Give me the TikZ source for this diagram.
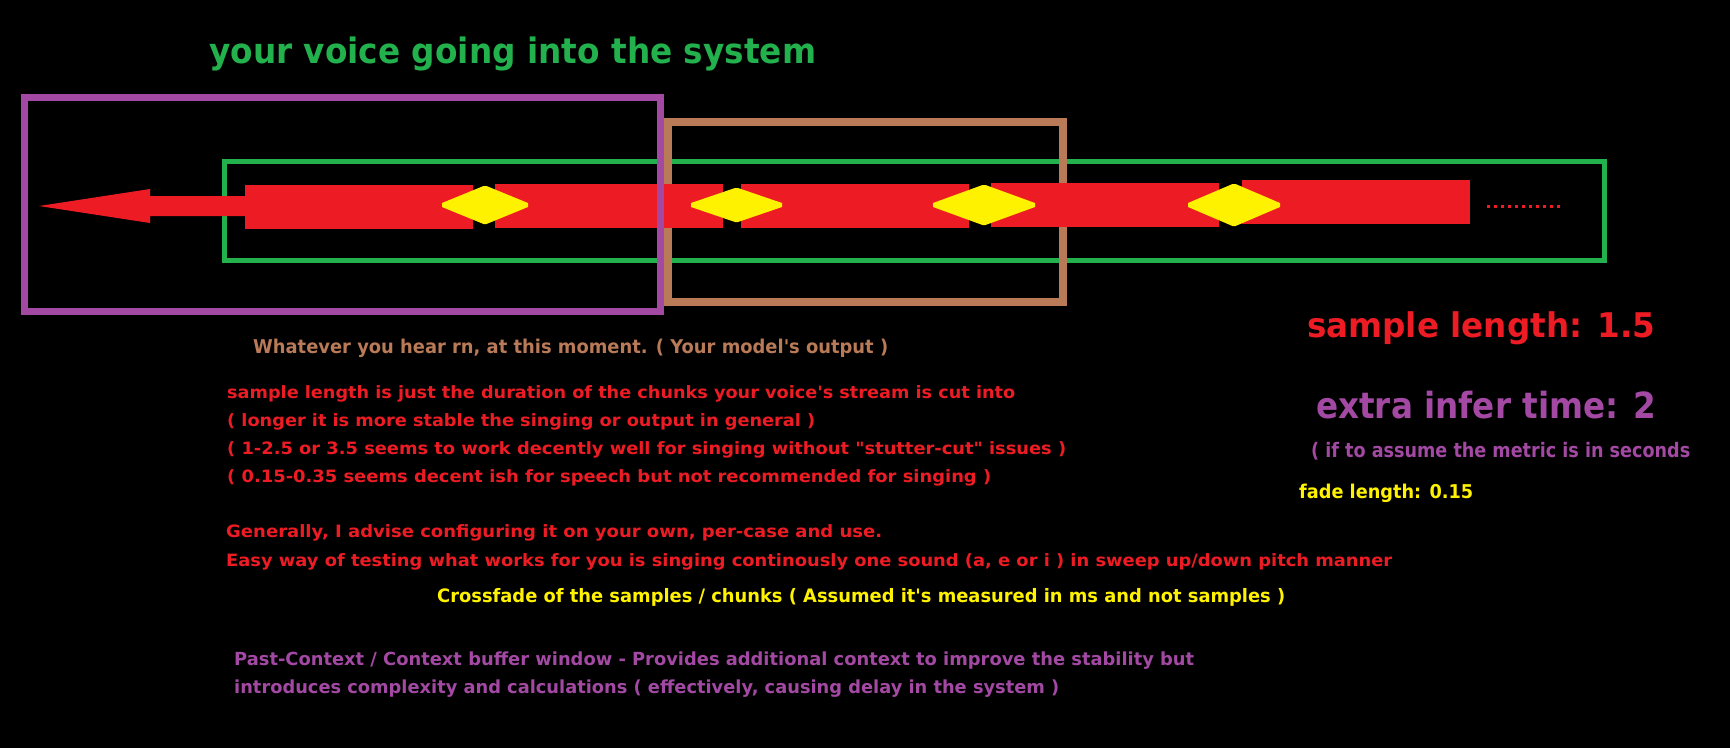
\documentclass[tikz,border=0pt]{standalone}
\usepackage{fontspec}
\usepackage{graphicx}
\setmainfont{DejaVu Sans}
\definecolor{pred}{HTML}{ED1C24}
\definecolor{pyellow}{HTML}{FFF200}
\definecolor{pgreen}{HTML}{22B14C}
\definecolor{ppurple}{HTML}{A349A4}
\definecolor{pbrown}{HTML}{B97A57}
\newcommand\fitw[2]{\resizebox{#1}{\height}{#2}}
% diamond: centre x, centre y, half width, half height
\newcommand\fadegem[4]{\fill[fade] (#1-#3,#2-2) -- (#1-1.5,#2-#4) -- (#1+1.5,#2-#4) -- (#1+#3,#2-2) -- (#1+#3,#2+2) -- (#1+1.5,#2+#4) -- (#1-1.5,#2+#4) -- (#1-#3,#2+2) -- cycle;}
\begin{document}
\begin{tikzpicture}[x=1pt,y=-1pt,
  chunk/.style={fill=pred,draw=none},
  fade/.style={fill=pyellow,draw=none},
  txt/.style={anchor=base west,inner sep=0},
  bigtxt/.style={anchor=base west,inner sep=0}]
\fill[black] (0,0) rectangle (1730,748);
\useasboundingbox (0,0) rectangle (1730,748);
% green stream box and brown output box
\draw[pgreen,line width=5pt] (224,161.5) rectangle (1604,260.5);
\draw[pbrown,line width=8pt] (668,122) rectangle (1063,302);
% arrow
\fill[pred] (39,206) -- (150,189) -- (150,196) -- (246,196) -- (246,216) -- (150,216) -- (150,223) -- cycle;
% chunks
\fill[chunk] (245,185) rectangle (473,229);
\fill[chunk] (495,184) rectangle (723,228);
\fill[chunk] (741,184) rectangle (969,228);
\fill[chunk] (991,183) rectangle (1219,227);
\fill[chunk] (1242,180) rectangle (1470,224);
% crossfade diamonds
\fadegem{485}{205}{43}{19}
\fadegem{736.5}{205}{45.5}{17}
\fadegem{984}{205}{51}{20}
\fadegem{1234}{205}{46}{21}
% dots
\draw[pred,line width=3pt,dash pattern=on 3pt off 4pt] (1487,206.5) -- (1562,206.5);
% purple context box
\draw[ppurple,line width=7pt] (24,97) rectangle (660,311);
% texts
\node[bigtxt,pgreen,font=\bfseries\fontsize{35}{40}\selectfont] (title) at (209,63) {\fitw{607pt}{your voice going into the system}};
\node[txt,pbrown,font=\bfseries\fontsize{19}{22}\selectfont] (out) at (253,353) {\fitw{635pt}{Whatever you hear rn, at this moment. ( Your model\textquotesingle s output )}};
\begin{scope}[every node/.style={txt,pred,font=\bfseries\fontsize{17}{20}\selectfont}]
\node (s1) at (227,398) {\fitw{788pt}{sample length is just the duration of the chunks your voice\textquotesingle s stream is cut into}};
\node (s2) at (227,426) {\fitw{588pt}{( longer it is more stable the singing or output in general )}};
\node (s3) at (227,454) {\fitw{839pt}{( 1-2.5 or 3.5 seems to work decently well for singing without \textquotedbl stutter-cut\textquotedbl{} issues )}};
\node (s4) at (227,482) {\fitw{764pt}{( 0.15-0.35 seems decent ish for speech but not recommended for singing )}};
\node (g1) at (226,537) {\fitw{656pt}{Generally, I advise configuring it on your own, per-case and use.}};
\node (g2) at (226,566) {\fitw{1166pt}{Easy way of testing what works for you is singing continously one sound (a, e or i ) in sweep up/down pitch manner}};
\end{scope}
\node[txt,pyellow,font=\bfseries\fontsize{18.5}{22}\selectfont] (cf) at (437,602) {\fitw{848pt}{Crossfade of the samples / chunks ( Assumed it\textquotesingle s measured in ms and not samples )}};
\node[txt,ppurple,font=\bfseries\fontsize{18}{22}\selectfont] (p1) at (234,665) {\fitw{960pt}{Past-Context / Context buffer window - Provides additional context to improve the stability but}};
\node[txt,ppurple,font=\bfseries\fontsize{18}{22}\selectfont] (p2) at (234,693) {\fitw{825pt}{introduces complexity and calculations ( effectively, causing delay in the system )}};
\node[bigtxt,pred,font=\bfseries\fontsize{34}{40}\selectfont] (sl) at (1307,337) {\fitw{348pt}{sample length: 1.5}};
\node[bigtxt,ppurple,font=\bfseries\fontsize{36}{40}\selectfont] (ei) at (1316,418) {\fitw{340pt}{extra infer time: 2}};
\node[bigtxt,ppurple,font=\bfseries\fontsize{20}{24}\selectfont] (as) at (1311,457) {\fitw{379pt}{( if to assume the metric is in seconds}};
\node[bigtxt,pyellow,font=\bfseries\fontsize{19}{22}\selectfont] (fl) at (1299,498) {\fitw{174pt}{fade length: 0.15}};
\end{tikzpicture}
\end{document}
